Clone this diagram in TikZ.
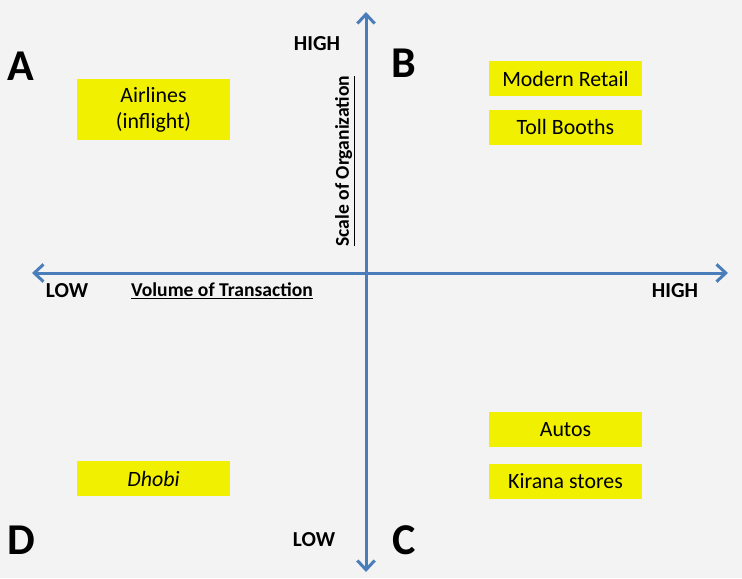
\documentclass[tikz,border=0pt]{standalone}
\usepackage{fontspec}
\setmainfont{Carlito}
\usetikzlibrary{arrows.meta, positioning}
\definecolor{axisblue}{RGB}{74,126,187}
\definecolor{boxyellow}{RGB}{240,240,0}
\definecolor{bggray}{RGB}{243,243,243}

\begin{document}
\begin{tikzpicture}[x=0.75pt, y=-0.75pt, node distance=10pt and 10pt,
        item/.style={fill=boxyellow, minimum width=114.75pt, minimum height=26.25pt, inner sep=0pt, align=center, font=\fontsize{16.4}{19.5}\selectfont},
        quad/.style={inner sep=0pt, font=\fontsize{33}{33}\selectfont\bfseries},
        level/.style={inner sep=0pt, font=\fontsize{16}{18}\selectfont\bfseries},
        title/.style={inner sep=0pt, font=\fontsize{14.7}{17}\selectfont\bfseries},
        axis/.style={{Straight Barb[length=7pt,width=13pt]}-{Straight Barb[length=7pt,width=13pt]}, draw=axisblue, line width=2.25pt}]

        % Background
        \fill[bggray] (0,0) rectangle (742,578);
        \useasboundingbox (0,0) rectangle (742,578);

        % Axis ends
        \coordinate (left) at (32,273);
        \coordinate (right) at (728,273);
        \coordinate (top) at (366,12);
        \coordinate (bottom) at (366,572);

        % Nodes
        \node [item, minimum height=45.75pt] (airlines) at (153.5,109.5) {Airlines\\(inflight)};
        \node [item] (retail) at (565.5,78.5) {Modern Retail};
        \node [item, below=of retail] (toll) {Toll Booths};
        \node [item] (autos) at (565.5,429.5) {Autos};
        \node [item, below=12pt of autos] (kirana) {Kirana stores};
        \node [item] (dhobi) at (153.5,478.5) {\itshape Dhobi};

        \node [quad] (qa) at (21,66) {A};
        \node [quad] (qb) at (404,63) {B};
        \node [quad] (qc) at (404,540) {C};
        \node [quad] (qd) at (21,540) {D};

        \node [level] (yhigh) at (317,44) {HIGH};
        \node [level] (ylow) at (314,540) {LOW};
        \node [level] (xlow) at (67,291) {LOW};
        \node [level] (xhigh) at (675,291) {HIGH};
        \node [title] (xtitle) at (222,291) {\underline{Volume of Transaction}};
        \node [title, rotate=90] (ytitle) at (345,161) {\underline{Scale of Organization}};

        % Arrows
        \draw [axis] (left) -- (right);
        \draw [axis] (bottom) -- (top);
\end{tikzpicture}
\end{document}
